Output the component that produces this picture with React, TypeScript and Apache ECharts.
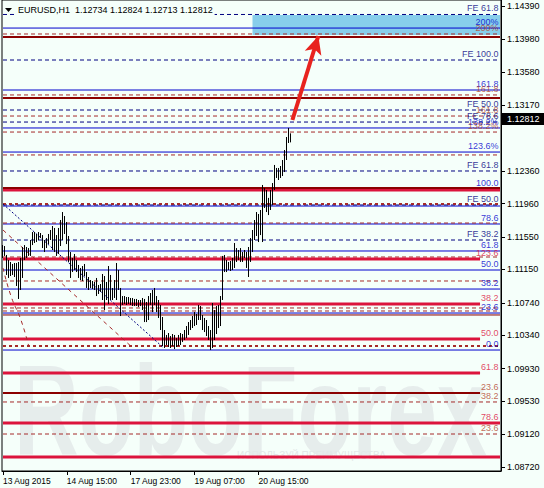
import React, { useEffect, useRef } from 'react';
import * as echarts from 'echarts';

const BG = '#F5FFFA';
const FONT = '"Liberation Sans", Arial, sans-serif';
const SLOTS = 250;

const title = 'EURUSD,H1  1.12734 1.12824 1.12713 1.12812';
const lastPrice = 1.12812;

// OHLC bars: [open, close, low, high]
const bars: number[][] = [
  [1.11389,1.11316,1.11291,1.11450],[1.11316,1.11413,1.11316,1.11438],[1.11328,1.11143,1.11082,1.11328],
  [1.11143,1.11192,1.11045,1.11266],[1.11192,1.11118,1.11069,1.11242],[1.11118,1.11168,1.11082,1.11217],
  [1.11168,1.11143,1.11057,1.11229],[1.11143,1.11020,1.10946,1.11229],[1.11020,1.11082,1.10787,1.11242],
  [1.11082,1.11242,1.10897,1.11291],[1.11242,1.11389,1.11045,1.11426],[1.11389,1.11328,1.11266,1.11450],
  [1.11328,1.11389,1.11291,1.11426],[1.11389,1.11364,1.11316,1.11413],[1.11364,1.11487,1.11316,1.11512],
  [1.11487,1.11561,1.11450,1.11610],[1.11561,1.11512,1.11475,1.11610],[1.11512,1.11561,1.11487,1.11586],
  [1.11561,1.11586,1.11512,1.11610],[1.11586,1.11561,1.11536,1.11598],[1.11561,1.11450,1.11413,1.11573],
  [1.11450,1.11475,1.11364,1.11512],[1.11475,1.11512,1.11413,1.11536],[1.11512,1.11561,1.11462,1.11586],
  [1.11561,1.11598,1.11512,1.11635],[1.11598,1.11450,1.11389,1.11684],[1.11450,1.11573,1.11364,1.11660],
  [1.11573,1.11389,1.11316,1.11573],[1.11389,1.11610,1.11340,1.11660],[1.11610,1.11697,1.11438,1.11758],
  [1.11697,1.11782,1.11512,1.11856],[1.11782,1.11660,1.11586,1.11807],[1.11660,1.11512,1.11462,1.11733],
  [1.11512,1.11291,1.11242,1.11561],[1.11291,1.11168,1.11045,1.11364],[1.11168,1.11242,1.11118,1.11291],
  [1.11242,1.11205,1.11143,1.11340],[1.11205,1.11168,1.11118,1.11266],[1.11168,1.11082,1.11045,1.11205],
  [1.11082,1.11118,1.11020,1.11168],[1.11118,1.11143,1.11008,1.11192],[1.11143,1.11094,1.11069,1.11217],
  [1.11094,1.10959,1.10922,1.11118],[1.10959,1.10971,1.10897,1.11057],[1.10971,1.10946,1.10922,1.11020],
  [1.10946,1.10971,1.10910,1.11008],[1.10971,1.10922,1.10897,1.10996],[1.10922,1.10959,1.10823,1.11045],
  [1.10959,1.10897,1.10848,1.10959],[1.10897,1.10922,1.10873,1.10971],[1.10922,1.11020,1.10774,1.11094],
  [1.11020,1.10823,1.10651,1.11069],[1.10823,1.10922,1.10774,1.10996],[1.10922,1.11082,1.10725,1.11192],
  [1.11082,1.10873,1.10774,1.11082],[1.10873,1.10823,1.10774,1.10922],[1.10823,1.10996,1.10799,1.11020],
  [1.10996,1.11143,1.10774,1.11229],[1.11143,1.10922,1.10897,1.11143],[1.10922,1.10774,1.10577,1.10922],
  [1.10774,1.10750,1.10713,1.10823],[1.10750,1.10799,1.10725,1.10823],[1.10799,1.10750,1.10713,1.10811],
  [1.10750,1.10774,1.10725,1.10811],[1.10774,1.10737,1.10713,1.10799],[1.10737,1.10774,1.10700,1.10799],
  [1.10774,1.10725,1.10700,1.10787],[1.10725,1.10750,1.10700,1.10787],[1.10750,1.10713,1.10688,1.10774],
  [1.10713,1.10750,1.10700,1.10774],[1.10750,1.10700,1.10651,1.10799],[1.10700,1.10577,1.10503,1.10787],
  [1.10577,1.10713,1.10503,1.10750],[1.10713,1.10774,1.10528,1.10823],[1.10774,1.10799,1.10713,1.10860],
  [1.10799,1.10713,1.10626,1.10897],[1.10713,1.10823,1.10713,1.10922],[1.10823,1.10651,1.10626,1.10823],
  [1.10651,1.10590,1.10553,1.10774],[1.10590,1.10454,1.10405,1.10713],[1.10454,1.10282,1.10208,1.10565],
  [1.10282,1.10331,1.10184,1.10405],[1.10331,1.10257,1.10221,1.10344],[1.10257,1.10306,1.10196,1.10368],
  [1.10306,1.10221,1.10184,1.10331],[1.10221,1.10282,1.10208,1.10356],[1.10282,1.10208,1.10171,1.10344],
  [1.10208,1.10257,1.10196,1.10306],[1.10257,1.10306,1.10208,1.10344],[1.10306,1.10282,1.10221,1.10368],
  [1.10282,1.10331,1.10257,1.10356],[1.10331,1.10380,1.10282,1.10405],[1.10380,1.10430,1.10306,1.10454],
  [1.10430,1.10467,1.10344,1.10503],[1.10467,1.10503,1.10405,1.10528],[1.10503,1.10553,1.10430,1.10577],
  [1.10553,1.10602,1.10454,1.10626],[1.10602,1.10528,1.10467,1.10602],[1.10528,1.10688,1.10528,1.10713],
  [1.10688,1.10590,1.10528,1.10700],[1.10590,1.10467,1.10405,1.10590],[1.10467,1.10430,1.10380,1.10553],
  [1.10430,1.10368,1.10331,1.10528],[1.10368,1.10306,1.10282,1.10454],[1.10306,1.10221,1.10159,1.10405],
  [1.10221,1.10651,1.10184,1.10737],[1.10651,1.10405,1.10282,1.10651],[1.10405,1.10626,1.10356,1.10700],
  [1.10626,1.10590,1.10430,1.10713],[1.10590,1.10774,1.10454,1.10823],[1.10774,1.11242,1.10774,1.11316],
  [1.11242,1.11205,1.11118,1.11328],[1.11205,1.11168,1.11118,1.11266],[1.11168,1.11217,1.11143,1.11242],
  [1.11217,1.11192,1.11131,1.11254],[1.11192,1.11242,1.11143,1.11291],[1.11242,1.11389,1.11168,1.11475],
  [1.11389,1.11328,1.11242,1.11413],[1.11328,1.11364,1.11266,1.11389],[1.11364,1.11316,1.11242,1.11413],
  [1.11316,1.11340,1.11242,1.11364],[1.11340,1.11328,1.11291,1.11389],[1.11328,1.11205,1.11168,1.11364],
  [1.11205,1.11389,1.11057,1.11426],[1.11389,1.11487,1.11242,1.11536],[1.11487,1.11573,1.11364,1.11635],
  [1.11573,1.11697,1.11512,1.11758],[1.11697,1.11635,1.11561,1.11856],[1.11635,1.11573,1.11487,1.11832],
  [1.11573,1.11819,1.11573,1.11881],[1.11819,1.12066,1.11487,1.12189],[1.12066,1.11943,1.11906,1.12152],
  [1.11943,1.12030,1.11856,1.12127],[1.12030,1.11881,1.11819,1.12030],[1.11881,1.12066,1.11881,1.12127],
  [1.12066,1.12152,1.11943,1.12213],[1.12152,1.12373,1.12127,1.12435],[1.12373,1.12312,1.12275,1.12398],
  [1.12312,1.12348,1.12250,1.12398],[1.12348,1.12299,1.12275,1.12422],[1.12299,1.12435,1.12299,1.12496],
  [1.12435,1.12558,1.12348,1.12619],[1.12558,1.12742,1.12496,1.12779],[1.12742,1.12734,1.12705,1.12890],
  [1.12734,1.12812,1.12713,1.12824],
];

const xTickIndex = [0, 32, 64, 96, 128];
const xTickText = ['13 Aug 2015', '14 Aug 15:00', '17 Aug 23:00', '19 Aug 07:00', '20 Aug 15:00'];

const yTickValues = [1.1439, 1.1398, 1.1358, 1.1317, 1.1236, 1.1196, 1.1155, 1.1115, 1.1074, 1.1034, 1.0993, 1.0953, 1.0912, 1.0872];
const yMin = 1.08671;
const yMax = 1.14464;

// Fibonacci retracement levels (blue, solid)
const blueLevels = [1.14119, 1.13357, 1.12890, 1.12594, 1.12139, 1.11930, 1.11709, 1.11377, 1.11143, 1.10909, 1.10614, 1.10159];
const blueLabels = ['200%', '161.8', '138.2%', '123.6%', '100.0', '', '78.6', '61.8', '50.0', '38.2', '23.6', '0.0'];

// Fibonacci expansion levels (navy, dashed)
const navyLevels = [1.14286, 1.13726, 1.13111, 1.12963, 1.12361, 1.11943, 1.11512];
const navyLabels = ['FE 61.8', 'FE 100.0', 'FE 50.0', 'FE 78.6', 'FE 61.8', 'FE 50.0', 'FE 38.2'];

// brown dashed levels
const brownLevels = [1.14046, 1.13296, 1.13037, 1.12840, 1.12558, 1.11721, 1.11303, 1.11008, 1.10676, 1.10639, 1.09520, 1.09126];
const brownLabels = ['200%', '161.8', '161.8', '138.2%', '', '', '', '', '', '', '38.2', '23.6'];
const brownBoldLevels = [1.11955, 1.10208];

// crimson thick levels
const crimsonLevels = [1.12127, 1.11278, 1.10725, 1.10294, 1.09876, 1.09261, 1.08843];
const crimsonLabels = ['', '123.6', '38.2', '50.0', '61.8', '78.6', ''];
const crimsonEnd = [249, 239, 239, 239, 239, 249, 249];

// dark red levels
const darkRedLevels = [1.14009, 1.13259, 1.12152, 1.10590, 1.09630];
const darkRedLabels = ['', '', '', '', '23.6'];
const darkRedEnd = [249, 249, 249, 249, 239];

// diagonal trend lines: [barIndex, price]
const navyDiagonal = [[0, 1.11955], [80, 1.10196]];
const brownDiagonal = [[0, 1.11635], [64, 1.10208]];
const brownCurve = [[0, 1.11168], [4, 1.10823], [9, 1.10528], [13, 1.10196]];

// target zone and arrow
const zoneTop = 1.14280;
const zoneBottom = 1.14034;
const zoneStart = 125;
const arrowFrom = [145, 1.12988];
const arrowTo = [158, 1.14021];

const BLUE = '#0000CD';
const NAVY = '#000080';
const BROWN = '#A52A2A';
const BROWN_TXT = '#B4442A';
const CRIMSON = '#DC143C';
const DARKRED = '#8B0000';

function levelSeries(price: number, end: number, color: string, width: number, type: any, z: number) {
  return {
    type: 'line',
    data: [[0, price], [end, price]],
    symbol: 'none',
    silent: true,
    z,
    lineStyle: { color, width, type },
  };
}

function buildOption() {
  const levelLines: any[] = [];
  blueLevels.forEach((p) => levelLines.push(levelSeries(p, SLOTS - 1, BLUE, 1, 'solid', 1)));
  navyLevels.forEach((p) => levelLines.push(levelSeries(p, SLOTS - 1, NAVY, 1, [4, 3], 1)));
  brownLevels.forEach((p) => levelLines.push(levelSeries(p, SLOTS - 1, BROWN, 1, [4, 3], 1)));
  brownBoldLevels.forEach((p) => levelLines.push(levelSeries(p, SLOTS - 1, BROWN, 2, [3, 3], 1)));
  crimsonLevels.forEach((p, i) => levelLines.push(levelSeries(p, crimsonEnd[i], CRIMSON, 3, 'solid', 2)));
  darkRedLevels.forEach((p, i) => levelLines.push(levelSeries(p, darkRedEnd[i], DARKRED, i === 3 ? 1 : 2, 'solid', 2)));

  const labels: any[] = [];
  const addLabels = (prices: number[], texts: string[], color: string) => {
    prices.forEach((p, i) => {
      if (!texts[i]) return;
      labels.push({ value: [SLOTS - 1, p], label: { formatter: texts[i], color } });
    });
  };
  addLabels(blueLevels, blueLabels, BLUE);
  addLabels(navyLevels, navyLabels, NAVY);
  addLabels(brownLevels, brownLabels, BROWN_TXT);
  addLabels(crimsonLevels, crimsonLabels, CRIMSON);
  addLabels(darkRedLevels, darkRedLabels, BROWN_TXT);

  const categories = Array.from({ length: SLOTS }, (_, i) => String(i));

  return {
    animation: false,
    backgroundColor: BG,
    grid: { left: 2, right: 43, top: 0, bottom: 17, show: true, borderColor: '#000', borderWidth: 1 },
    xAxis: {
      type: 'category',
      data: categories,
      boundaryGap: true,
      axisLine: { show: true, lineStyle: { color: '#000', width: 1 } },
      axisTick: {
        show: true,
        alignWithLabel: true,
        length: 4,
        interval: (i: number) => xTickIndex.includes(i),
        lineStyle: { color: '#000' },
      },
      axisLabel: {
        interval: (i: number) => xTickIndex.includes(i),
        formatter: (_v: string, i: number) => xTickText[xTickIndex.indexOf(i)] || '',
        align: 'left',
        margin: 5,
        fontSize: 8.5,
        fontFamily: FONT,
        color: '#000',
      },
      splitLine: { show: false },
    },
    yAxis: {
      type: 'value',
      position: 'right',
      min: yMin,
      max: yMax,
      axisLine: { show: true, lineStyle: { color: '#000', width: 1 } },
      axisTick: { show: true, length: 4, customValues: yTickValues, lineStyle: { color: '#000' } },
      axisLabel: {
        customValues: yTickValues,
        formatter: (v: number) => v.toFixed(5),
        margin: 6,
        fontSize: 9,
        fontFamily: FONT,
        color: '#000',
      },
      splitLine: { show: false },
    },
    graphic: [
      {
        type: 'text', x: 14, y: 346, z: 0, scaleX: 0.7,
        style: { text: 'RoboForex', font: `bold 128px ${FONT}`, fill: '#E6EDEC', verticalAlign: 'top' },
      },
      {
        type: 'text', x: 237, y: 450, z: 0,
        style: { text: 'ИСПОЛЬЗУЙ ПРЕИМУЩЕСТВА', font: `10px ${FONT}`, fill: '#E2E9E8', verticalAlign: 'top' },
      },
      {
        type: 'polygon', z: 100,
        shape: { points: [[5, 8], [12, 8], [8.5, 12]] },
        style: { fill: '#000' },
      },
      {
        type: 'text', x: 16, y: 4, z: 100,
        style: { text: title, font: `9px ${FONT}`, fill: '#000', backgroundColor: BG, padding: [1, 2, 4, 2], verticalAlign: 'top' },
      },
    ],
    series: [
      {
        type: 'line', data: [[zoneStart, zoneTop]], z: 0, silent: true, symbol: 'none',
        lineStyle: { opacity: 0 },
        markArea: {
          silent: true,
          itemStyle: { color: '#87CEEB', opacity: 1 },
          data: [[{ coord: [zoneStart, zoneTop] }, { coord: [SLOTS - 1, zoneBottom] }]],
        },
      },
      ...levelLines,
      {
        type: 'line', data: navyDiagonal, z: 2, silent: true, symbol: 'none',
        lineStyle: { color: NAVY, width: 1, type: [2, 2] },
      },
      {
        type: 'line', data: brownDiagonal, z: 2, silent: true, symbol: 'none',
        lineStyle: { color: BROWN, width: 1, type: [4, 4] },
      },
      {
        type: 'line', data: brownCurve, z: 2, silent: true, symbol: 'none', smooth: true,
        lineStyle: { color: BROWN, width: 1, type: [4, 4] },
      },
      {
        type: 'candlestick', data: bars, z: 3, barWidth: 1,
        itemStyle: { color: '#000', color0: '#000', borderColor: '#000', borderColor0: '#000', borderWidth: 1 },
      },
      {
        type: 'scatter', data: labels, z: 4, silent: true, symbolSize: 1,
        itemStyle: { color: 'transparent' },
        label: { show: true, position: 'left', distance: 1, offset: [0, -6], fontSize: 9, fontFamily: FONT },
      },
      {
        type: 'line', data: [arrowFrom], z: 5, silent: true, symbol: 'none',
        lineStyle: { opacity: 0 },
        markLine: {
          silent: true,
          symbol: ['none', 'arrow'],
          symbolSize: [13, 18],
          data: [
            [
              { coord: arrowFrom, lineStyle: { color: '#E8231E', width: 4, type: 'solid' }, label: { show: false } },
              { coord: arrowTo },
            ],
          ],
        },
      },
      {
        type: 'line', data: [[SLOTS - 1, lastPrice]], z: 5, silent: true, symbol: 'none',
        lineStyle: { opacity: 0 },
        markLine: {
          silent: true,
          symbol: ['none', 'none'],
          data: [
            {
              yAxis: lastPrice,
              lineStyle: { color: 'transparent', width: 0 },
              label: {
                show: true, position: 'end', distance: 1, formatter: lastPrice.toFixed(5),
                backgroundColor: '#000', color: '#fff', padding: [2, 5, 1, 5], fontSize: 9, fontFamily: FONT,
              },
            },
          ],
        },
      },
    ],
  };
}

export default function App() {
  const ref = useRef<HTMLDivElement>(null);
  useEffect(() => {
    const chart = echarts.init(ref.current!, null, { renderer: 'svg' });
    chart.setOption(buildOption() as any);
    return () => chart.dispose();
  }, []);
  return (
    <div
      ref={ref}
      style={{ position: 'fixed', left: 0, top: 0, width: 544, height: 488, background: BG }}
    />
  );
}
